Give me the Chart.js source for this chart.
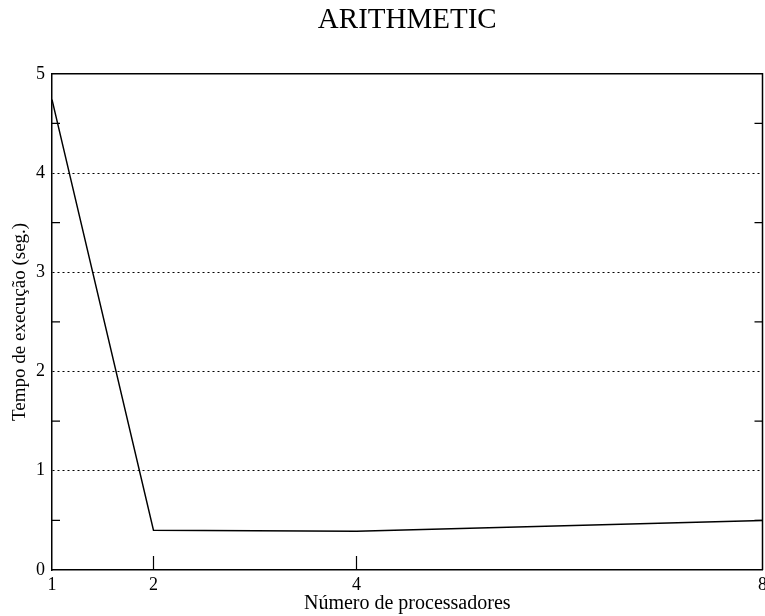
<!DOCTYPE html>
<html>
<head>
<meta charset="utf-8">
<script src="https://cdn.jsdelivr.net/npm/chart.js@4/dist/chart.umd.min.js"></script>
<style>
  html, body { margin: 0; padding: 0; background: #fff; overflow: hidden; }
  #wrap { width: 771px; height: 616px; }
</style>
</head>
<body>
<div id="wrap"><canvas id="grafico"></canvas></div>
<script>
// ---- dados
const processadores = [1, 2, 4, 8];
const tempos = [4.74, 0.40, 0.39, 0.50];
const ticksX = [1, 2, 4, 8];
const ticksMenoresY = [0.5, 1.5, 2.5, 3.5, 4.5];
const ticksMenoresX = [2, 4];

const fonte = "'Liberation Serif', 'Times New Roman', serif";

// moldura + marcas para dentro
const moldura = {
    id: "moldura",
    afterDatasetsDraw(chart) {
        const ctx = chart.ctx;
        const a = chart.chartArea;
        const sx = chart.scales.x, sy = chart.scales.y;
        ctx.save();
        ctx.strokeStyle = "#000";
        ctx.lineWidth = 1.5;
        ctx.beginPath();
        ctx.moveTo(a.left, a.top);
        ctx.lineTo(a.right, a.top);
        ctx.lineTo(a.right, a.bottom);
        ctx.stroke();
        ctx.lineWidth = 1.2;
        ctx.beginPath();
        ticksMenoresY.forEach(v => {
            const y = sy.getPixelForValue(v);
            ctx.moveTo(a.left, y); ctx.lineTo(a.left + 8, y);
            ctx.moveTo(a.right, y); ctx.lineTo(a.right - 8, y);
        });
        ticksMenoresX.forEach(v => {
            const x = sx.getPixelForValue(v);
            ctx.moveTo(x, a.bottom); ctx.lineTo(x, a.bottom - 14);
        });
        ctx.stroke();
        ctx.restore();
    }
};

new Chart(document.getElementById("grafico"), {
    type: "scatter",
    data: {
        datasets: [{
            label: "ARITHMETIC",
            data: processadores.map((p, i) => ({x: p, y: tempos[i]})),
            showLine: true,
            borderColor: "#000",
            borderWidth: 1.5,
            pointRadius: 0,
            tension: 0,
            fill: false
        }]
    },
    options: {
        responsive: true,
        maintainAspectRatio: false,
        animation: false,
        plugins: {
            legend: { display: false },
            tooltip: { enabled: false },
            title: {
                display: true,
                fullSize: false,
                text: "ARITHMETIC",
                color: "#000",
                font: { family: fonte, size: 29, weight: "normal" },
                padding: { top: 3, bottom: 36 }
            }
        },
        scales: {
            x: {
                type: "linear",
                min: 1,
                max: 8,
                afterBuildTicks: s => { s.ticks = ticksX.map(v => ({value: v})); },
                afterFit: s => { s.height = 46; },
                grid: { display: false, drawTicks: false },
                border: { display: true, color: "#000", width: 1.5 },
                ticks: {
                    color: "#000",
                    padding: 4,
                    maxRotation: 0,
                    font: { family: fonte, size: 18 }
                },
                title: {
                    display: true,
                    text: "Número de processadores",
                    color: "#000",
                    font: { family: fonte, size: 20 },
                    padding: { top: 0, bottom: 0 }
                }
            },
            y: {
                min: 0,
                max: 5,
                afterFit: s => { s.width = 52; },
                grid: {
                    drawTicks: false,
                    color: c => (c.tick && c.tick.value > 0 && c.tick.value < 5) ? "#000" : "rgba(0,0,0,0)",
                    lineWidth: 1
                },
                border: { display: true, color: "#000", width: 1.5, dash: [2, 3] },
                ticks: {
                    stepSize: 1,
                    color: "#000",
                    padding: 7,
                    font: { family: fonte, size: 18 }
                },
                title: {
                    display: true,
                    text: "Tempo de execução (seg.)",
                    color: "#000",
                    font: { family: fonte, size: 19 },
                    padding: { top: 9, bottom: 0 }
                }
            }
        }
    },
    plugins: [moldura]
});
</script>
</body>
</html>
